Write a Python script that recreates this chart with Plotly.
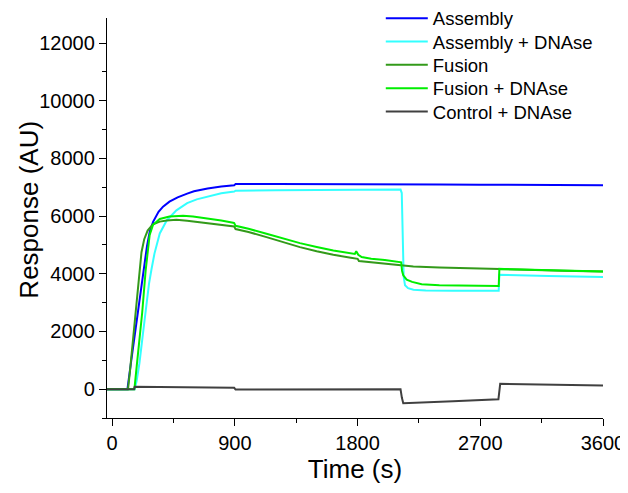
import plotly.graph_objects as go

# ---- data ----
series_names = ["Assembly", "Assembly + DNAse", "Fusion", "Fusion + DNAse", "Control + DNAse"]
series_colors = ["#0000ff", "#33ffff", "#339a1a", "#00ee00", "#404040"]

assembly_t = [-38, 112, 140, 170, 200, 230, 255, 275, 300, 340, 373, 420, 480, 550, 600, 700, 800,
              895, 905, 1200, 1500, 1800, 2100, 2400, 2700, 3000, 3300, 3600]
assembly_y = [0, 0, 1000, 2050, 3100, 4150, 4950, 5450, 5800, 6150, 6330, 6500, 6650, 6780, 6860, 6960, 7030,
              7070, 7110, 7110, 7110, 7120, 7110, 7100, 7090, 7080, 7075, 7070]

asm_dnase_t = [-38, 165, 180, 200, 225, 251, 270, 288, 310, 349, 400, 471, 550, 620, 716, 800, 895, 905,
               1200, 1500, 1800, 2050, 2115, 2124, 2130, 2138, 2148, 2170, 2210, 2300, 2500, 2835, 2840,
               2900, 3200, 3600]
asm_dnase_y = [0, 0, 300, 900, 1900, 2980, 3650, 4150, 4700, 5400, 5850, 6200, 6450, 6580, 6700, 6790, 6850,
               6880, 6900, 6910, 6920, 6930, 6920, 6800, 5000, 3900, 3600, 3500, 3450, 3420, 3410, 3410, 3970,
               3960, 3920, 3885]

fusion_t = [-38, 116, 130, 150, 175, 195, 215, 235, 260, 300, 349, 400, 471, 550, 650, 750, 880, 895, 905,
            1000, 1132, 1250, 1377, 1500, 1622, 1750, 1800, 1810, 1900, 2000, 2111, 2209, 2400, 2600, 2838,
            3000, 3300, 3600]
fusion_y = [0, 0, 600, 1600, 2950, 4000, 4750, 5200, 5500, 5720, 5810, 5850, 5870, 5840, 5780, 5720, 5660,
            5640, 5550, 5450, 5272, 5100, 4925, 4780, 4658, 4560, 4520, 4440, 4400, 4350, 4311, 4250, 4220,
            4190, 4160, 4140, 4110, 4080]

fus_dnase_t = [-38, 163, 180, 200, 220, 246, 262, 275, 300, 349, 420, 520, 593, 700, 800, 887, 895, 905,
               1000, 1132, 1250, 1377, 1500, 1622, 1780, 1790, 1800, 1805, 1830, 1900, 2000, 2111, 2120,
               2126, 2135, 2160, 2200, 2270, 2400, 2835, 2840, 3000, 3300, 3600]
fus_dnase_y = [0, 0, 800, 1700, 2650, 4140, 4900, 5350, 5700, 5900, 5990, 6010, 5990, 5920, 5850, 5770,
               5760, 5664, 5560, 5387, 5230, 5064, 4930, 4808, 4690, 4780, 4700, 4660, 4580, 4520, 4480, 4430,
               4400, 4100, 3950, 3800, 3720, 3640, 3600, 3580, 4170, 4150, 4110, 4080]

control_t = [-38, 160, 165, 400, 895, 905, 1500, 2115, 2125, 2135, 2500, 2833, 2846, 3200, 3600]
control_y = [0, 0, 80, 65, 45, -15, -10, -5, -300, -485, -420, -347, 184, 155, 125]

x_ticks = [0, 900, 1800, 2700, 3600]
y_ticks = [0, 2000, 4000, 6000, 8000, 10000, 12000]

all_t = [assembly_t, asm_dnase_t, fusion_t, fus_dnase_t, control_t]
all_y = [assembly_y, asm_dnase_y, fusion_y, fus_dnase_y, control_y]

FONT = "Liberation Sans, Arial, sans-serif"

# the page body adds an 8px offset, so the figure is 8px smaller than the window
W, H = 620, 485
ML, MR, MT, MB = 99, 25, 10, 75
plot_h = H - MT - MB

fig = go.Figure()
legend_ids = ["legend", "legend2", "legend3", "legend4", "legend5"]
for name, color, t, y, lid in zip(series_names, series_colors, all_t, all_y, legend_ids):
    fig.add_trace(go.Scatter(x=t, y=y, mode="lines", name=name, legend=lid,
                             line=dict(color=color, width=2)))

# one legend box per entry so rows keep the reference spacing
row_centers_px = [10.7, 34.0, 57.3, 80.7, 104.0]
legend_layout = {}
for lid, cy in zip(legend_ids, row_centers_px):
    legend_layout[lid] = dict(
        x=0.552, y=1 - (cy - MT) / plot_h, xanchor="left", yanchor="middle",
        font=dict(family=FONT, size=18.5, color="black"),
        bgcolor="rgba(0,0,0,0)", itemwidth=42,
    )

fig.update_layout(
    width=W, height=H,
    margin=dict(l=ML, r=MR, t=MT, b=MB, autoexpand=False),
    paper_bgcolor="white", plot_bgcolor="white",
    font=dict(family=FONT, color="black"),
    showlegend=True,
    **legend_layout,
)

fig.update_xaxes(
    range=[-38, 3600], tickvals=x_ticks, ticktext=[str(v) for v in x_ticks],
    automargin=False,
    showline=True, linecolor="black", linewidth=1.3, mirror=False,
    ticks="outside", ticklen=7, tickwidth=1.3, tickcolor="black",
    minor=dict(dtick=450, tick0=0, ticks="outside", ticklen=4, tickwidth=1.3, tickcolor="black"),
    showgrid=False, zeroline=False,
    tickfont=dict(family=FONT, size=20, color="black"),
    title=dict(text="Time (s)", font=dict(family=FONT, size=26, color="black"), standoff=2),
)
fig.update_yaxes(
    range=[-1000, 12870], tickvals=y_ticks, ticktext=[str(v) for v in y_ticks],
    automargin=False,
    showline=True, linecolor="black", linewidth=1.3, mirror=False,
    ticks="outside", ticklen=7, tickwidth=1.3, tickcolor="black",
    minor=dict(dtick=1000, tick0=0, ticks="outside", ticklen=4, tickwidth=1.3, tickcolor="black"),
    showgrid=False, zeroline=False,
    tickfont=dict(family=FONT, size=20, color="black"),
)
fig.add_annotation(text="Response (AU)", xref="paper", yref="paper", x=-0.158, y=0.52,
                   xanchor="center", yanchor="middle", textangle=-90, showarrow=False,
                   font=dict(family=FONT, size=26, color="black"))

fig.write_html("out.html")
